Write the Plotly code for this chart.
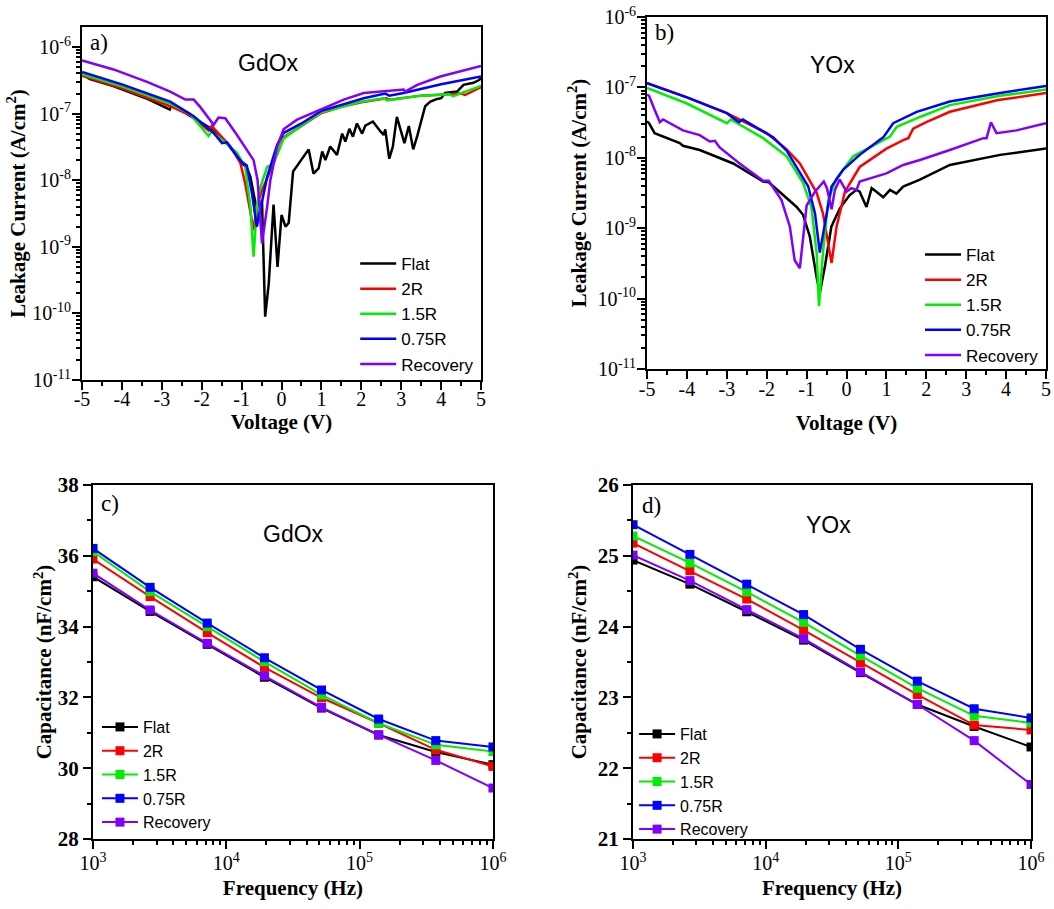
import plotly.graph_objects as go

# ---------------- Panel a) GdOx leakage current ----------------
V_flat_a = [-5.0, -4.8, -4.2, -3.4, -2.8, -2.75, -2.3, -1.78, -1.53, -1.37, -1.03, -0.9, -0.78, -0.65, -0.57,
            -0.49, -0.41, -0.32, -0.2, -0.1, 0.0, 0.1, 0.18, 0.29, 0.47, 0.68, 0.8, 0.93, 1.02, 1.1, 1.22, 1.39,
            1.52, 1.6, 1.7, 1.79, 1.89, 2.02, 2.1, 2.29, 2.48, 2.56, 2.6, 2.7, 2.79, 2.89, 3.08, 3.19, 3.3, 3.4,
            3.6, 3.73, 3.9, 4.0, 4.1, 4.4, 4.56, 4.81, 4.94, 5.0]
I_flat_a = [3.9e-7, 3.3e-7, 2.57e-7, 1.7e-7, 1.15e-7, 1.38e-7, 9.3e-8, 6.0e-8, 4.3e-8, 3.6e-8, 2.0e-8, 1.7e-8,
            1.12e-8, 4.6e-9, 2.5e-9, 5.0e-9, 8.9e-11, 2.8e-10, 4.3e-9, 5.0e-10, 3.0e-9, 2.0e-9, 2.3e-9, 1.35e-8,
            1.9e-8, 2.9e-8, 1.26e-8, 1.5e-8, 2.7e-8, 2.0e-8, 3.2e-8, 2.4e-8, 5.0e-8, 3.8e-8, 5.9e-8, 4.5e-8,
            7.1e-8, 5.0e-8, 6.6e-8, 7.6e-8, 5.4e-8, 4.8e-8, 5.8e-8, 2.1e-8, 3.2e-8, 8.9e-8, 3.6e-8, 6.5e-8,
            2.9e-8, 4.6e-8, 1.29e-7, 1.51e-7, 1.66e-7, 1.7e-7, 2.04e-7, 2.14e-7, 2.7e-7, 2.9e-7, 3.16e-7, 3.4e-7]

V_2r_a = [-5.0, -4.0, -2.79, -2.3, -1.83, -1.75, -1.28, -1.03, -0.91, -0.78, -0.7, -0.62, -0.49, -0.2, 0.05,
          0.5, 1.0, 1.5, 2.0, 2.63, 2.7, 3.5, 4.5, 4.6, 5.0]
I_2r_a = [3.7e-7, 2.4e-7, 1.29e-7, 9.5e-8, 5.6e-8, 6.5e-8, 3.2e-8, 1.8e-8, 8.9e-9, 3.2e-9, 1.8e-9, 4.0e-9,
          7.1e-9, 1.8e-8, 4.4e-8, 6.5e-8, 1.02e-7, 1.26e-7, 1.48e-7, 1.7e-7, 1.62e-7, 1.86e-7, 2.0e-7, 1.9e-7,
          2.5e-7]

V_15r_a = [-5.0, -4.0, -2.79, -2.3, -1.83, -1.75, -1.12, -0.91, -0.78, -0.7, -0.62, -0.53, -0.36, -0.24, -0.11,
           0.05, 0.5, 1.0, 2.0, 2.56, 2.65, 3.5, 4.2, 4.3, 5.0]
I_15r_a = [3.9e-7, 2.57e-7, 1.41e-7, 1.0e-7, 4.6e-8, 5.4e-8, 2.6e-8, 1.58e-8, 4.0e-9, 7.1e-10, 4.0e-9, 7.9e-9,
           1.58e-8, 1.7e-8, 2.4e-8, 4.2e-8, 6.6e-8, 1.05e-7, 1.51e-7, 1.7e-7, 1.58e-7, 1.86e-7, 1.95e-7,
           1.82e-7, 2.6e-7]

V_075r_a = [-5.0, -4.0, -2.79, -2.2, -1.7, -1.49, -1.37, -0.95, -0.87, -0.74, -0.62, -0.49, -0.36, -0.11, 0.05,
            0.5, 1.0, 2.06, 2.6, 2.7, 3.06, 4.0, 5.0]
I_075r_a = [4.2e-7, 2.75e-7, 1.51e-7, 9.1e-8, 5.1e-8, 3.6e-8, 3.7e-8, 1.7e-8, 1.66e-8, 6.3e-9, 2.0e-9, 5.0e-9,
            1.12e-8, 3.4e-8, 5.1e-8, 7.1e-8, 1.1e-7, 1.7e-7, 2.0e-7, 1.86e-7, 2.04e-7, 2.75e-7, 3.6e-7]

V_rec_a = [-5.0, -4.21, -3.37, -2.79, -2.41, -2.2, -2.04, -1.7, -1.58, -1.41, -1.12, -0.82, -0.7, -0.6, -0.49,
           -0.36, -0.28, -0.11, 0.05, 0.39, 0.97, 1.56, 2.06, 3.06, 3.1, 3.4, 3.98, 5.0]
I_rec_a = [6.3e-7, 4.6e-7, 3.0e-7, 2.14e-7, 1.62e-7, 1.62e-7, 1.26e-7, 6.8e-8, 8.7e-8, 8.5e-8, 4.8e-8, 2.6e-8,
           2.0e-8, 1.0e-8, 1.12e-9, 4.0e-9, 1.0e-8, 3.2e-8, 5.8e-8, 8.1e-8, 1.15e-7, 1.62e-7, 2.04e-7, 2.3e-7,
           2.14e-7, 2.7e-7, 3.6e-7, 5.2e-7]

# ---------------- Panel b) YOx leakage current ----------------
V_flat_b = [-5.0, -4.95, -4.81, -4.51, -4.18, -4.1, -3.68, -2.84, -2.09, -1.95, -1.25, -1.09, -0.92, -0.75,
            -0.67, -0.54, -0.38, -0.17, 0.08, 0.25, 0.33, 0.5, 0.63, 0.75, 0.92, 1.09, 1.25, 1.42, 1.84, 2.59,
            3.85, 5.0]
I_flat_b = [3.3e-8, 3.1e-8, 2.24e-8, 1.9e-8, 1.62e-8, 1.48e-8, 1.29e-8, 8.3e-9, 4.6e-9, 4.5e-9, 2.0e-9, 1.55e-9,
            7.6e-10, 2.0e-10, 1.2e-10, 2.9e-10, 1.05e-9, 1.9e-9, 2.95e-9, 3.5e-9, 3.3e-9, 2.0e-9, 3.7e-9,
            3.3e-9, 2.75e-9, 3.5e-9, 3.1e-9, 3.9e-9, 4.9e-9, 7.9e-9, 1.1e-8, 1.35e-8]

V_2r_b = [-5.0, -4.0, -3.0, -2.5, -2.0, -1.84, -1.5, -1.17, -0.75, -0.59, -0.375, -0.25, -0.04, 0.33, 1.0,
          1.46, 1.55, 1.67, 2.0, 2.59, 3.8, 5.0]
I_2r_b = [1.15e-7, 7.2e-8, 4.3e-8, 3.1e-8, 2.24e-8, 1.9e-8, 1.32e-8, 8.3e-9, 3.2e-9, 1.62e-9, 3.2e-10, 1.05e-9,
          3.3e-9, 7.4e-9, 1.35e-8, 1.82e-8, 1.9e-8, 2.6e-8, 3.2e-8, 4.5e-8, 6.6e-8, 8.3e-8]

V_15r_b = [-5.0, -4.0, -3.0, -2.9, -2.09, -1.5, -1.09, -0.88, -0.75, -0.69, -0.59, -0.46, -0.25, 0.17, 0.92,
           1.09, 1.26, 1.84, 2.59, 3.85, 5.0]
I_15r_b = [9.8e-8, 5.9e-8, 3.1e-8, 3.5e-8, 1.9e-8, 1.05e-8, 4.4e-9, 2.0e-9, 4.5e-10, 7.8e-11, 4.5e-10, 2.5e-9,
           5.1e-9, 1.05e-8, 1.78e-8, 2.0e-8, 2.75e-8, 3.8e-8, 5.6e-8, 7.6e-8, 9.3e-8]

V_075r_b = [-5.0, -4.0, -3.0, -2.7, -2.6, -2.0, -1.84, -1.5, -1.25, -0.96, -0.79, -0.67, -0.54, -0.375, -0.08,
            0.33, 0.92, 1.17, 1.76, 2.59, 3.85, 5.0]
I_075r_b = [1.15e-7, 7.2e-8, 4.3e-8, 3.2e-8, 3.5e-8, 2.2e-8, 1.95e-8, 1.26e-8, 7.4e-9, 3.9e-9, 1.62e-9, 4.5e-10,
            1.17e-9, 3.9e-9, 6.8e-9, 1.1e-8, 1.95e-8, 3.1e-8, 4.5e-8, 6.3e-8, 8.3e-8, 1.05e-7]

V_rec_b = [-5.0, -4.95, -4.81, -4.68, -4.6, -4.1, -3.68, -3.43, -3.3, -3.18, -2.68, -2.09, -1.95, -1.63, -1.42,
           -1.3, -1.17, -1.0, -0.79, -0.57, -0.49, -0.375, -0.29, -0.17, 0.0, 0.12, 0.25, 0.33, 0.59, 1.0, 1.42,
           1.84, 2.59, 3.43, 3.51, 3.62, 3.76, 4.26, 5.0]
I_rec_b = [7.9e-8, 7.6e-8, 4.8e-8, 3.2e-8, 3.5e-8, 2.45e-8, 2.1e-8, 1.7e-8, 1.74e-8, 1.4e-8, 8.3e-9, 4.7e-9,
           4.7e-9, 2.5e-9, 1.05e-9, 3.5e-10, 2.7e-10, 2.1e-9, 3.3e-9, 4.6e-9, 3.7e-9, 1.86e-9, 3.5e-9, 4.9e-9,
           3.3e-9, 3.7e-9, 3.5e-9, 4.6e-9, 5.1e-9, 6.0e-9, 7.9e-9, 9.3e-9, 1.29e-8, 1.9e-8, 1.9e-8, 3.2e-8,
           2.24e-8, 2.45e-8, 3.1e-8]

# ---------------- Panels c) and d) capacitance ----------------
freq = [1000, 2683, 7197, 19307, 51795, 138950, 372759, 1000000]
C_gd_flat = [35.41, 34.43, 33.50, 32.57, 31.70, 30.94, 30.46, 30.10]
C_gd_2r = [35.91, 34.85, 33.83, 32.85, 31.99, 31.27, 30.52, 30.05]
C_gd_15r = [36.12, 34.99, 34.00, 33.01, 32.07, 31.27, 30.66, 30.47]
C_gd_075r = [36.21, 35.11, 34.10, 33.12, 32.21, 31.39, 30.78, 30.60]
C_gd_rec = [35.51, 34.47, 33.53, 32.61, 31.72, 30.94, 30.22, 29.44]

C_y_flat = [24.94, 24.60, 24.21, 23.81, 23.35, 22.90, 22.59, 22.30]
C_y_2r = [25.18, 24.79, 24.39, 23.95, 23.49, 23.04, 22.61, 22.54]
C_y_15r = [25.28, 24.90, 24.49, 24.06, 23.59, 23.13, 22.74, 22.64]
C_y_075r = [25.44, 25.02, 24.60, 24.17, 23.68, 23.23, 22.84, 22.71]
C_y_rec = [25.01, 24.65, 24.24, 23.83, 23.36, 22.90, 22.39, 21.77]

names = ["Flat", "2R", "1.5R", "0.75R", "Recovery"]
colors = ["#000000", "#ff0000", "#00ee00", "#0000ff", "#8000ff"]

# tick labels
V_ticks = [-5, -4, -3, -2, -1, 0, 1, 2, 3, 4, 5]
V_ticktext = ["-5", "-4", "-3", "-2", "-1", "0", "1", "2", "3", "4", "5"]
I_ticks = [1e-11, 1e-10, 1e-9, 1e-8, 1e-7, 1e-6]
I_ticktext = ["10<sup>-11</sup>", "10<sup>-10</sup>", "10<sup>-9</sup>", "10<sup>-8</sup>",
              "10<sup>-7</sup>", "10<sup>-6</sup>"]
f_ticks = [1e3, 1e4, 1e5, 1e6]
f_ticktext = ["10<sup>3</sup>", "10<sup>4</sup>", "10<sup>5</sup>", "10<sup>6</sup>"]

leak_a = [(V_flat_a, I_flat_a), (V_2r_a, I_2r_a), (V_15r_a, I_15r_a), (V_075r_a, I_075r_a), (V_rec_a, I_rec_a)]
leak_b = [(V_flat_b, I_flat_b), (V_2r_b, I_2r_b), (V_15r_b, I_15r_b), (V_075r_b, I_075r_b), (V_rec_b, I_rec_b)]
cap_c = [C_gd_flat, C_gd_2r, C_gd_15r, C_gd_075r, C_gd_rec]
cap_d = [C_y_flat, C_y_2r, C_y_15r, C_y_075r, C_y_rec]

fig = go.Figure()
for (v, i), n, c in zip(leak_a, names, colors):
    fig.add_trace(go.Scatter(x=v, y=i, mode="lines", name=n, line=dict(color=c, width=2.5),
                             xaxis="x", yaxis="y", legend="legend"))
for (v, i), n, c in zip(leak_b, names, colors):
    fig.add_trace(go.Scatter(x=v, y=i, mode="lines", name=n, line=dict(color=c, width=2.5),
                             xaxis="x2", yaxis="y2", legend="legend2"))
for cv, n, c in zip(cap_c, names, colors):
    fig.add_trace(go.Scatter(x=freq, y=cv, mode="lines+markers", name=n, line=dict(color=c, width=2),
                             marker=dict(symbol="square", size=9, color=c),
                             xaxis="x3", yaxis="y3", legend="legend3"))
for cv, n, c in zip(cap_d, names, colors):
    fig.add_trace(go.Scatter(x=freq, y=cv, mode="lines+markers", name=n, line=dict(color=c, width=2),
                             marker=dict(symbol="square", size=9, color=c),
                             xaxis="x4", yaxis="y4", legend="legend4"))

serif = "Liberation Serif"
sans = "Liberation Sans"

def base_axis(**kw):
    d = dict(showline=True, linecolor="black", linewidth=2, mirror=True, ticks="outside", ticklen=8,
             tickwidth=2, tickcolor="black", showgrid=False, zeroline=False, automargin=False,
             tickfont=dict(family=serif, size=20, color="black"))
    d.update(kw)
    return d

log_minor_I = [k * 10.0 ** e for e in range(-11, -5) for k in range(2, 10)]
f_minor = [k * 10.0 ** e for e in range(3, 6) for k in range(2, 10)]

def ttl(t, s):
    return dict(text="<b>%s</b>" % t, font=dict(family=serif, size=21, color="black"), standoff=s)

vminor = dict(ticks="outside", ticklen=4, tickwidth=1.5, tickcolor="black", dtick=0.5, showgrid=False)
Iminor = dict(ticks="outside", ticklen=4, tickwidth=1.5, tickcolor="black", tickvals=log_minor_I, showgrid=False)
fminor = dict(ticks="outside", ticklen=4, tickwidth=1.5, tickcolor="black", tickvals=f_minor, showgrid=False)

leg = dict(bgcolor="rgba(0,0,0,0)", font=dict(family=sans, size=17, color="black"),
           xanchor="left", yanchor="top", tracegroupgap=0, itemwidth=36)
leg_cd = dict(leg, font=dict(family=sans, size=16, color="black"))

fig.update_layout(
    width=1054, height=909,
    margin=dict(l=0, r=0, t=0, b=0),
    paper_bgcolor="white", plot_bgcolor="white",
    xaxis=base_axis(domain=[0.0778, 0.4564], anchor="y", range=[-5, 5], tickvals=V_ticks, ticktext=V_ticktext,
                    ticklabelstandoff=-8, minor=vminor, title=ttl("Voltage (V)", 2)),
    yaxis=base_axis(domain=[0.5820, 0.9703], anchor="x", type="log", range=[-11, -5.7],
                    tickvals=I_ticks, ticktext=I_ticktext, minor=Iminor, ticklabelstandoff=-3,
                    title=ttl("Leakage Current (A/cm<sup>2</sup>)", 1)),
    xaxis2=base_axis(domain=[0.6139, 0.9924], anchor="y2", range=[-5, 5], tickvals=V_ticks, ticktext=V_ticktext,
                     ticklabelstandoff=-7, minor=vminor, title=ttl("Voltage (V)", 16)),
    yaxis2=base_axis(domain=[0.5941, 0.9813], anchor="x2", type="log", range=[-11, -6],
                     tickvals=I_ticks, ticktext=I_ticktext, minor=Iminor, ticklabelstandoff=-3,
                     title=ttl("Leakage Current (A/cm<sup>2</sup>)", 5)),
    xaxis3=base_axis(domain=[0.0882, 0.4677], anchor="y3", type="log", range=[3, 6], ticklabelstandoff=-3,
                     tickvals=f_ticks, ticktext=f_ticktext, minor=fminor, title=ttl("Frequency (Hz)", 7)),
    yaxis3=base_axis(domain=[0.0770, 0.4664], anchor="x3", range=[28, 38], dtick=2,
                     tickfont=dict(family=serif, size=21, color="black", weight="bold"),
                     minor=dict(ticks="outside", ticklen=4, tickwidth=1.5, tickcolor="black", dtick=1),
                     title=ttl("Capacitance (nF/cm<sup>2</sup>)", 0)),
    xaxis4=base_axis(domain=[0.6006, 0.9782], anchor="y4", type="log", range=[3, 6], ticklabelstandoff=-3,
                     tickvals=f_ticks, ticktext=f_ticktext, minor=fminor, title=ttl("Frequency (Hz)", 7)),
    yaxis4=base_axis(domain=[0.0770, 0.4664], anchor="x4", range=[21, 26], dtick=1,
                     tickfont=dict(family=serif, size=21, color="black", weight="bold"),
                     minor=dict(ticks="outside", ticklen=4, tickwidth=1.5, tickcolor="black", dtick=0.5),
                     title=ttl("Capacitance (nF/cm<sup>2</sup>)", 5)),
    legend=dict(leg, x=0.337, y=0.7294),
    legend2=dict(leg, x=0.8729, y=0.7393),
    legend3=dict(leg_cd, x=0.092, y=0.2189),
    legend4=dict(leg_cd, x=0.6016, y=0.2112),
    showlegend=True,
)

ann = [
    ("a)", 0.0835, 0.9527, serif, 23), ("GdOx", 0.2552, 0.9307, sans, 23),
    ("b)", 0.6195, 0.9637, serif, 23), ("YOx", 0.7903, 0.9285, sans, 23),
    ("c)", 0.0939, 0.4466, serif, 23), ("GdOx", 0.2780, 0.4125, sans, 23),
    ("d)", 0.6072, 0.4444, serif, 23), ("YOx", 0.7865, 0.4224, sans, 23),
]
for txt, x, y, fam, sz in ann:
    fig.add_annotation(text=txt, x=x, y=y, xref="paper", yref="paper", showarrow=False,
                       xanchor="left" if txt.endswith(")") else "center", yanchor="middle",
                       font=dict(family=fam, size=sz, color="black"))

fig.write_html("out.html")
